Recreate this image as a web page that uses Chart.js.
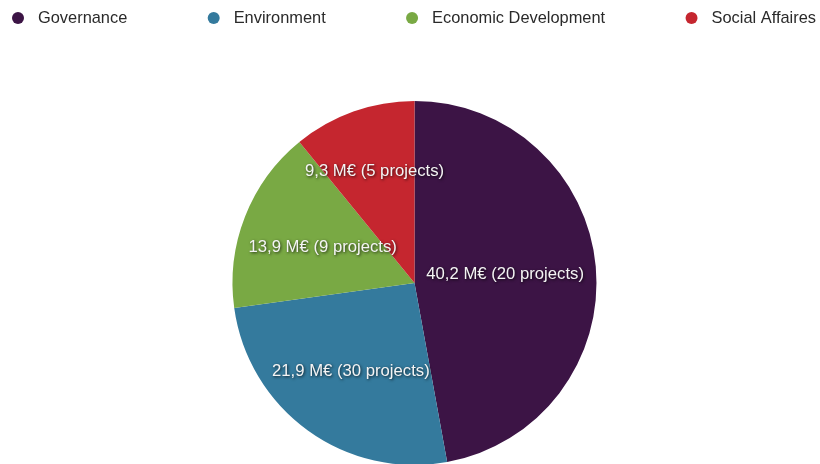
<!DOCTYPE html>
<html>
<head>
<meta charset="utf-8">
<script src="https://cdn.jsdelivr.net/npm/chart.js@4"></script>
<style>
  html, body { margin: 0; padding: 0; background: #ffffff; overflow: hidden; }
  #wrap { width: 820px; height: 464px; overflow: hidden; }
  canvas { display: block; }
</style>
</head>
<body>
<div id="wrap"><canvas id="c" width="820" height="465"></canvas></div>
<script>
const categories = ["Governance", "Environment", "Economic Development", "Social Affaires"];
const amountsMEUR = [40.2, 21.9, 13.9, 9.3];
const projectCounts = [20, 30, 9, 5];
const sliceColors = ["#3c1445", "#347a9d", "#79a944", "#c5262f"];

const LEGEND_FONT = '16.4px "Liberation Sans", Arial, sans-serif';
const LABEL_FONT = '16.7px "Liberation Sans", Arial, sans-serif';

function labelText(i) {
  return amountsMEUR[i].toFixed(1).replace('.', ',') + ' M\u20AC (' + projectCounts[i] + ' projects)';
}

const legendPlugin = {
  id: 'topLegend',
  afterDraw(chart) {
    const ctx = chart.ctx;
    ctx.save();
    ctx.font = LEGEND_FONT;
    const r = 6, gapText = 14, left = 12, right = 4, y = 18;
    const widths = categories.map(c => 2 * r + gapText + ctx.measureText(c).width);
    const total = widths.reduce((a, b) => a + b, 0);
    const gap = (chart.width - left - right - total) / (categories.length - 1);
    let x = left;
    categories.forEach((c, i) => {
      ctx.fillStyle = sliceColors[i];
      ctx.beginPath();
      ctx.arc(x + r, y, r, 0, Math.PI * 2);
      ctx.fill();
      ctx.fillStyle = '#2a2a2a';
      ctx.textAlign = 'left';
      ctx.textBaseline = 'middle';
      ctx.fillText(c, x + 2 * r + gapText, y);
      x += widths[i] + gap;
    });
    ctx.restore();
  }
};

const sliceLabelPlugin = {
  id: 'sliceLabels',
  afterDatasetsDraw(chart) {
    const ctx = chart.ctx;
    const meta = chart.getDatasetMeta(0);
    ctx.save();
    ctx.font = LABEL_FONT;
    ctx.textAlign = 'center';
    ctx.textBaseline = 'middle';
    meta.data.forEach((arc, i) => {
      const p = arc.getProps(['x', 'y', 'startAngle', 'endAngle', 'outerRadius'], true);
      const R = p.outerRadius;
      const mid = (p.startAngle + p.endAngle) / 2;
      const a = (p.endAngle - p.startAngle) / 2;
      const txt = labelText(i);
      const hw = ctx.measureText(txt).width / 2;
      const margin = 11, hh = 6;
      let d = Math.max(0.5 * R, 2 * R * Math.sin(a) / (3 * a));
      const fits = (dd) => {
        const lx = p.x + Math.cos(mid) * dd, ly = p.y + Math.sin(mid) * dd;
        for (const yy of [ly - hh, ly + hh]) {
          const dy = yy - p.y;
          const half = Math.sqrt(Math.max(0, R * R - dy * dy)) - margin;
          if (lx - hw < p.x - half || lx + hw > p.x + half) return false;
        }
        return true;
      };
      while (d > 0 && !fits(d)) d -= 0.5;
      const lx = p.x + Math.cos(mid) * d;
      const ly = p.y + Math.sin(mid) * d;
      ctx.shadowColor = 'rgba(0,0,0,0.75)';
      ctx.shadowBlur = 3;
      ctx.shadowOffsetX = 1;
      ctx.shadowOffsetY = 1;
      ctx.fillStyle = '#f4f4f4';
      ctx.fillText(txt, lx, ly);
    });
    ctx.restore();
  }
};

new Chart(document.getElementById('c'), {
  type: 'pie',
  data: {
    labels: categories,
    datasets: [{
      data: amountsMEUR,
      backgroundColor: sliceColors,
      borderWidth: 0,
      hoverOffset: 0
    }]
  },
  options: {
    responsive: false,
    animation: false,
    layout: { padding: { top: 101, left: 9, right: 0, bottom: 0 } },
    plugins: {
      legend: { display: false },
      tooltip: { enabled: false }
    }
  },
  plugins: [legendPlugin, sliceLabelPlugin]
});
</script>
</body>
</html>
